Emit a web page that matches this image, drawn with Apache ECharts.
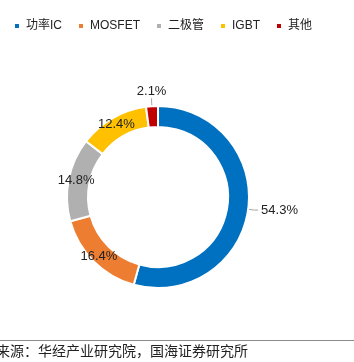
<!DOCTYPE html>
<html>
<head>
<meta charset="utf-8">
<script src="https://cdn.jsdelivr.net/npm/echarts@6/dist/echarts.min.js"></script>
<style>
  html, body { margin: 0; padding: 0; background: #fff; }
  #chart { width: 354px; height: 362px; }
</style>
</head>
<body>
<div id="chart"></div>
<script>
const categories = ["功率IC", "MOSFET", "二极管", "IGBT", "其他"];
const shares = [54.3, 16.4, 14.8, 12.4, 2.1];
const colors = ["#0070C0", "#ED7D31", "#B0B0B0", "#FFC000", "#C00000"];
const sourceNote = "来源：华经产业研究院，国海证券研究所";

const font = "'Liberation Sans', Arial, 'Noto Sans CJK SC', sans-serif";

// the two small/large slices get outside labels with a leader line
const outsideIdx = [0, 4];

const pieData = categories.map((name, i) => {
  const item = { name, value: shares[i], itemStyle: { color: colors[i] } };
  if (outsideIdx.includes(i)) {
    item.label = { position: "outside" };
    item.labelLine = { show: true };
  } else {
    item.label = { position: "inside" };
    item.labelLine = { show: false };
  }
  return item;
});

const myChart = echarts.init(document.getElementById("chart"));
myChart.setOption({
  animation: false,
  legend: {
    top: 15,
    left: 8,
    itemGap: 15,
    itemWidth: 6,
    itemHeight: 6,
    icon: "rect",
    textStyle: { fontFamily: font, fontSize: 12, color: "#222", padding: [0, 0, 0, 1] },
    data: categories,
  },
  series: [
    {
      type: "pie",
      center: [158, 197],
      radius: [70, 91],
      startAngle: 90,
      clockwise: true,
      data: pieData,
      itemStyle: { borderColor: "#fff", borderWidth: 2 },
      label: {
        show: true,
        formatter: (p) => p.value.toFixed(1) + "%",
        fontFamily: font,
        fontSize: 13,
        color: "#222",
        distanceToLabelLine: 3,
      },
      labelLine: {
        length: 6,
        length2: 4,
        lineStyle: { color: "#A6A6A6", width: 1 },
      },
      labelLayout: (params) => {
        // put the tiny top slice's label centred above its leader line
        if (params.dataIndex === 4 && params.labelLinePoints) {
          const pts = params.labelLinePoints;
          const end = pts[pts.length - 1];
          return { x: end[0] + 4, y: end[1] - 2, align: "center", verticalAlign: "bottom" };
        }
        return {};
      },
    },
  ],
  graphic: [
    {
      type: "line",
      shape: { x1: 0, y1: 340.5, x2: 354, y2: 340.5 },
      style: { stroke: "#8C8C8C", lineWidth: 1 },
    },
    {
      type: "text",
      left: -4,
      top: 344,
      style: {
        text: sourceNote,
        fontFamily: "'Noto Sans CJK SC', sans-serif",
        fontSize: 14,
        fill: "#222",
      },
    },
  ],
});
</script>
</body>
</html>
